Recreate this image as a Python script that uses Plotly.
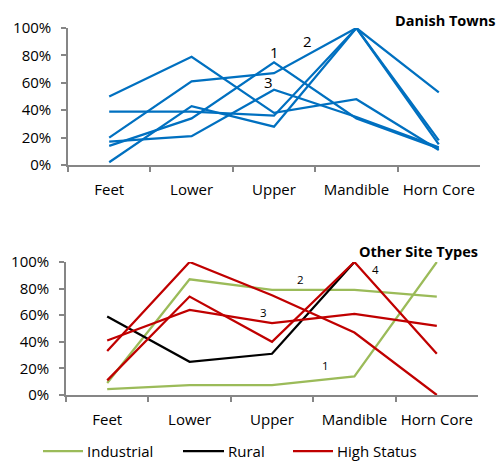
import plotly.graph_objects as go

# Skeletal element categories shared by both panels
elements = ["Feet", "Lower", "Upper", "Mandible", "Horn Core"]

# Danish Towns: percentage of each element represented, one series per town
town_a = [50, 79, 38, 48, 11]
town_b = [39, 39, 36, 100, 53]
town_c = [20, 61, 67, 100, 18]
town_d = [14, 34, 75, 34, 12]
town_e = [2, 43, 28, 100, 15]
town_f = [17, 21, 55, 35, 13]
danish_series = [town_a, town_b, town_c, town_d, town_e, town_f]

# Other site types
industrial_1 = [4.5, 7.5, 7.5, 14, 100]
industrial_2 = [9, 87, 79, 79, 74]
rural_1 = [59, 25, 31, 100, None]
high_status_3 = [41, 64, 54, 61, 52]
high_status_4 = [11, 74, 40, 100, 31]
high_status_5 = [33, 100, 75, 47, 0]

# Site number labels: (category position, value, text)
danish_labels = [(2.0, 82.5, "1"), (2.41, 90.5, "2"), (1.93, 60.6, "3")]
other_labels = [(2.65, 22.5, "1"), (2.35, 86.5, "2"), (1.9, 62.4, "3"),
                (3.25, 94.5, "4"), (1.32, 100.8, "5")]

legend_names = ["Industrial", "Rural", "High Status"]

BLUE = "#0070C0"
GREEN = "#9BBB59"
BLACK = "#000000"
RED = "#C00000"
AXIS_GREY = "#868686"
FONT = "Open Sans"
FS = 15

fig = go.Figure()

for s in danish_series:
    fig.add_trace(go.Scatter(x=elements, y=s, mode="lines",
                             line=dict(color=BLUE, width=2.25),
                             showlegend=False, xaxis="x", yaxis="y"))

other = [
    (industrial_1, GREEN, "Industrial"),
    (industrial_2, GREEN, "Industrial"),
    (rural_1, BLACK, "Rural"),
    (high_status_3, RED, "High Status"),
    (high_status_4, RED, "High Status"),
    (high_status_5, RED, "High Status"),
]
for vals, color, name in other:
    fig.add_trace(go.Scatter(x=elements, y=vals, mode="lines", name=name,
                             showlegend=False,
                             line=dict(color=color, width=2.25),
                             xaxis="x2", yaxis="y2"))

xcommon = dict(type="category", range=[-0.5, 4.5], showline=True,
               linecolor=AXIS_GREY, linewidth=1.5, ticks="outside",
               tickson="boundaries", ticklen=5, tickcolor=AXIS_GREY,
               tickwidth=1.5, showgrid=False, zeroline=False,
               tickfont=dict(family=FONT, size=FS, color="#000000"),
               ticklabelstandoff=10, automargin=False)
ycommon = dict(range=[0, 100], dtick=20, ticksuffix="%", showline=True,
               linecolor=AXIS_GREY, linewidth=1.5, ticks="outside",
               ticklen=5, tickcolor=AXIS_GREY, tickwidth=1.5,
               showgrid=False, zeroline=False,
               tickfont=dict(family=FONT, size=FS, color="#000000"),
               ticklabelstandoff=7, automargin=False)

W, H = 499, 461
fig.update_layout(
    width=W, height=H,
    margin=dict(l=0, r=0, t=0, b=0, pad=0),
    paper_bgcolor="white", plot_bgcolor="white",
    xaxis=dict(domain=[68 / W, 480 / W], anchor="y", **xcommon),
    yaxis=dict(domain=[1 - 165 / H, 1 - 28 / H], anchor="x", **ycommon),
    xaxis2=dict(domain=[66 / W, 478 / W], anchor="y2", **xcommon),
    yaxis2=dict(domain=[1 - 395 / H, 1 - 262 / H], anchor="x2", **ycommon),
    showlegend=False,
)

annotations = [
    dict(text="<b>Danish Towns</b>", xref="paper", yref="paper",
         x=497 / W, y=1 - 20 / H, xanchor="right", yanchor="middle",
         showarrow=False, font=dict(family=FONT, size=14.5, color="#000")),
    dict(text="<b>Other Site Types</b>", xref="paper", yref="paper",
         x=480 / W, y=1 - 251 / H, xanchor="right", yanchor="middle",
         showarrow=False, font=dict(family=FONT, size=14.5, color="#000")),
]
for xpos, yval, txt in danish_labels:
    annotations.append(dict(text=txt, x=xpos, y=yval, xref="x", yref="y",
                            showarrow=False,
                            font=dict(family=FONT, size=15, color="#000")))
for xpos, yval, txt in other_labels:
    annotations.append(dict(text=txt, x=xpos, y=yval, xref="x2", yref="y2",
                            showarrow=False,
                            font=dict(family=FONT, size=11.5, color="#000")))

# Legend drawn below the lower panel: sample line start/end and text start (px)
shapes = []
legend_layout = [(43, 83, 86), (183, 224, 227), (293, 333, 336)]
legend_colors = [GREEN, BLACK, RED]
ly = 1 - 451 / H
for name, color, (x0, x1, tx) in zip(legend_names, legend_colors, legend_layout):
    shapes.append(dict(type="line", xref="paper", yref="paper",
                       x0=x0 / W, x1=x1 / W, y0=ly, y1=ly,
                       line=dict(color=color, width=2.25)))
    annotations.append(dict(text=name, xref="paper", yref="paper",
                            x=tx / W, y=ly, xanchor="left", yanchor="middle",
                            showarrow=False, borderpad=0,
                            font=dict(family=FONT, size=FS, color="#000")))

fig.update_layout(annotations=annotations, shapes=shapes)

fig.write_html("out.html")
